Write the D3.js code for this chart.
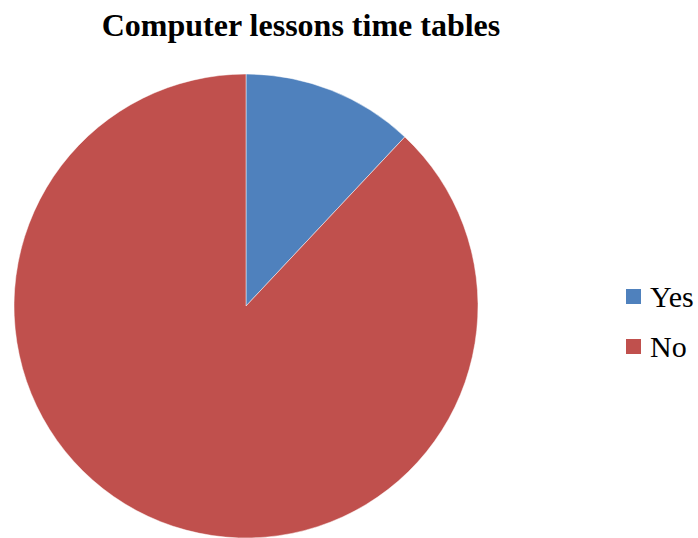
<!DOCTYPE html>
<html><head><meta charset="utf-8">
<script src="https://cdn.jsdelivr.net/npm/d3@7"></script>
<style>html,body{margin:0;padding:0;background:#fff;}</style>
</head><body>
<svg id="chart" width="698" height="538"></svg>
<script>
const categories = ["Yes", "No"];
const values = [12, 88];
const colors = ["#4F81BD", "#C0504D"];
const title = "Computer lessons time tables";

const svg = d3.select("#chart");
const cx = 246, cy = 306, r = 232;

svg.append("text").attr("x", 301).attr("y", 36).attr("text-anchor", "middle")
  .attr("font-family", "Liberation Serif, Times New Roman, serif")
  .attr("font-weight", "bold").attr("font-size", 32).attr("fill", "#000").text(title);

const pie = d3.pie().sort(null).value(d => d)(values);
const arc = d3.arc().innerRadius(0).outerRadius(r);
const g = svg.append("g").attr("transform", `translate(${cx},${cy})`);
g.selectAll("path").data(pie).join("path")
  .attr("d", arc).attr("fill", (d, i) => colors[i])
  .attr("stroke", "#fff").attr("stroke-width", 0.8).attr("stroke-opacity", 0.6);

const color = d3.scaleOrdinal().domain(categories).range(colors);
const leg = svg.append("g").attr("transform", "translate(626,289)");
const item = leg.selectAll("g").data(categories).join("g")
  .attr("transform", (d, i) => `translate(0,${i * 50})`);
item.append("rect").attr("width", 15).attr("height", 15).attr("fill", d => color(d));
item.append("text").attr("x", 24).attr("y", 18)
  .attr("font-family", "Liberation Serif, Times New Roman, serif")
  .attr("font-size", 30).attr("fill", "#000").text(d => d);
</script>
</body></html>
